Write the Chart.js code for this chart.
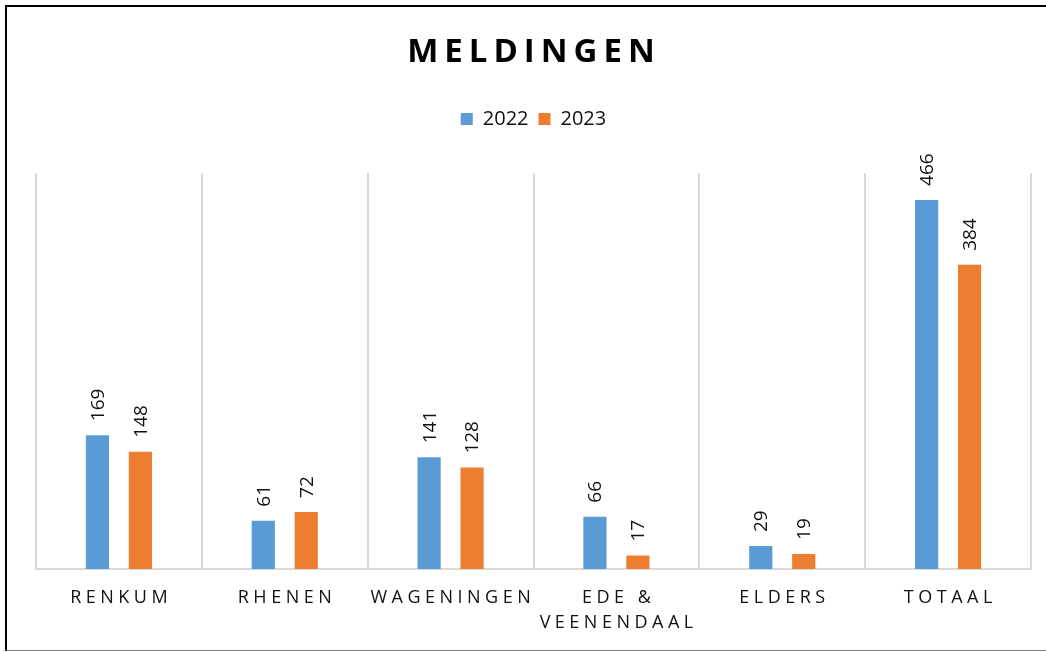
<!DOCTYPE html>
<html>
<head>
<meta charset="utf-8">
<script src="https://cdn.jsdelivr.net/npm/chart.js@4.4.1/dist/chart.umd.min.js"></script>
<style>
    html, body { margin: 0; padding: 0; background: #fff; overflow: hidden; }
    #wrap { position: relative; width: 1046px; height: 652px; }
    #frame {
        position: absolute; left: 5px; top: 5px; width: 1100px; height: 643px;
        border-left: 2px solid #000; border-top: 2px solid #000; border-bottom: 1px solid #7f7f7f;
    }
    #meldingenChart { position: absolute; left: 0; top: 0; }
</style>
</head>
<body>
<div id="wrap">
    <div id="frame"></div>
    <canvas id="meldingenChart" width="1046" height="652"></canvas>
</div>
<script>
    // Meldingen per gemeente, 2022 vs 2023
    var categories = [['RENKUM'], ['RHENEN'], ['WAGENINGEN'], ['EDE &', 'VEENENDAAL'], ['ELDERS'], ['TOTAAL']];
    var seriesNames = ['2022', '2023'];
    var values2022 = [169, 61, 141, 66, 29, 466];
    var values2023 = [148, 72, 128, 17, 19, 384];
    var chartTitle = 'MELDINGEN';

    var FONT = '"Open Sans", "Noto Sans", sans-serif';

    // draws text with letter spacing, centered on cx
    function spacedText(ctx, text, cx, cy, spacing) {
        ctx.letterSpacing = spacing + 'px';
        var w = ctx.measureText(text).width;
        ctx.textAlign = 'left';
        ctx.fillText(text, cx - (w - spacing) / 2, cy);
        ctx.letterSpacing = '0px';
    }

    // push the plot area down below the legend
    var legendGap = {
        id: 'legendGap',
        beforeInit: function (chart) {
            var fit = chart.legend.fit;
            chart.legend.fit = function () {
                fit.bind(chart.legend)();
                this.height += 34;
            };
        }
    };

    var decorations = {
        id: 'decorations',
        afterDraw: function (chart) {
            var ctx = chart.ctx;
            var xScale = chart.scales.x;
            ctx.save();
            ctx.textBaseline = 'middle';

            // title
            ctx.fillStyle = '#000';
            ctx.font = 'bold 33px ' + FONT;
            spacedText(ctx, chartTitle, 531, 53, 6);

            // category labels
            ctx.fillStyle = '#111';
            ctx.font = '18px ' + FONT;
            categories.forEach(function (lines, i) {
                var cx = xScale.getPixelForValue(i);
                lines.forEach(function (line, j) {
                    spacedText(ctx, line, cx, 598 + j * 25, 4.5);
                });
            });

            // value labels, rotated above the bars
            ctx.font = '19px ' + FONT;
            chart.data.datasets.forEach(function (ds, di) {
                chart.getDatasetMeta(di).data.forEach(function (bar, i) {
                    ctx.save();
                    ctx.translate(bar.x, bar.y - 14);
                    ctx.rotate(-Math.PI / 2);
                    ctx.textAlign = 'left';
                    ctx.fillText(String(ds.data[i]), 0, 1);
                    ctx.restore();
                });
            });
            ctx.restore();
        }
    };

    new Chart(document.getElementById('meldingenChart'), {
        type: 'bar',
        data: {
            labels: categories,
            datasets: [{
                label: seriesNames[0],
                data: values2022,
                backgroundColor: '#5B9BD5',
                categoryPercentage: 0.518,
                barPercentage: 0.54
            }, {
                label: seriesNames[1],
                data: values2023,
                backgroundColor: '#ED7D31',
                categoryPercentage: 0.518,
                barPercentage: 0.54
            }]
        },
        options: {
            responsive: false,
            animation: false,
            layout: {
                padding: { top: 99, left: 36, right: 15, bottom: 83 }
            },
            plugins: {
                title: { display: false },
                tooltip: { enabled: false },
                legend: {
                    position: 'top',
                    labels: {
                        boxWidth: 12,
                        boxHeight: 12,
                        padding: 10,
                        color: '#111',
                        font: { size: 20, family: FONT }
                    }
                }
            },
            scales: {
                x: {
                    offset: true,
                    grid: {
                        offset: true,
                        color: '#d9d9d9',
                        lineWidth: 2,
                        drawTicks: false
                    },
                    border: { display: true, color: '#d9d9d9', width: 2 },
                    ticks: { display: false }
                },
                y: {
                    display: false,
                    min: 0,
                    max: 500
                }
            }
        },
        plugins: [legendGap, decorations]
    });
</script>
</body>
</html>
